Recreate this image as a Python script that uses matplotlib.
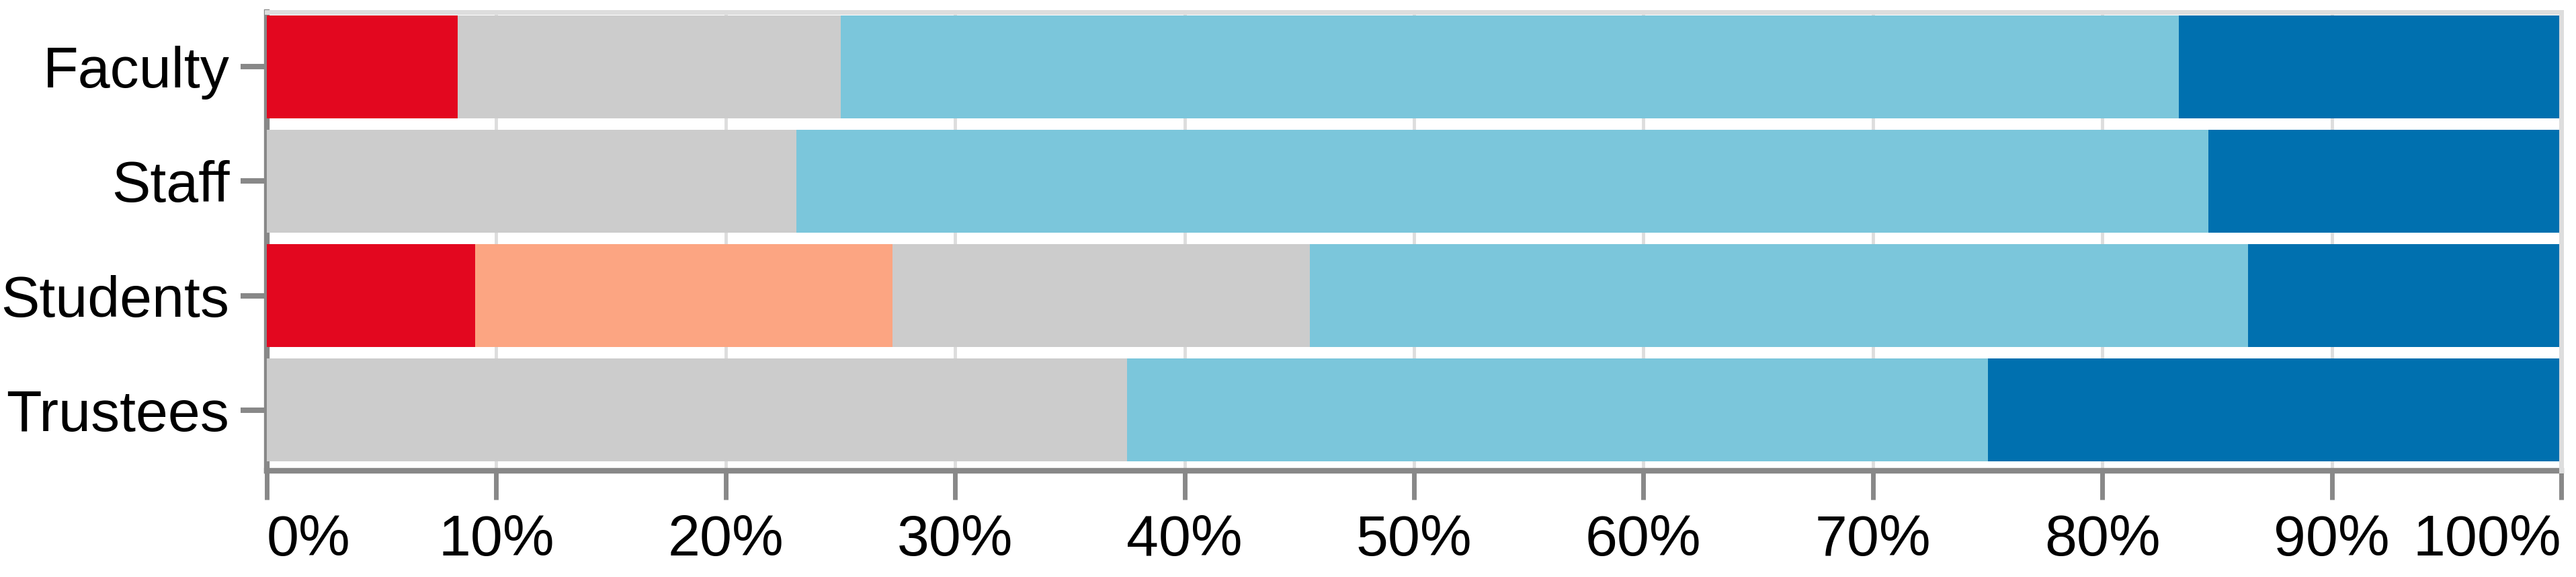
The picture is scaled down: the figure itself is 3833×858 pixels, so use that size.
import numpy as np
import matplotlib.pyplot as plt

plt.rcParams['font.family'] = ['Liberation Sans', 'DejaVu Sans']

# Share of responses per group (percent)
groups = ['Faculty', 'Staff', 'Students', 'Trustees']
strongly_disagree = [8.33, 0.0, 9.09, 0.0]
disagree = [0.0, 0.0, 18.18, 0.0]
neutral = [16.67, 23.08, 18.18, 37.5]
agree = [58.33, 61.54, 40.91, 37.5]
strongly_agree = [16.67, 15.38, 13.64, 25.0]

x_ticks = [0, 10, 20, 30, 40, 50, 60, 70, 80, 90, 100]

series = [strongly_disagree, disagree, neutral, agree, strongly_agree]
colors = ['#e3071f', '#fca582', '#cccccc', '#7bc6db', '#0070af']

W, H = 3833, 858
fig = plt.figure(figsize=(W / 100, H / 100), dpi=100)
ax = fig.add_axes([397 / W, 1 - 700 / H, (3811 - 397) / W, (700 - 18) / H])

y = np.arange(len(groups))
left = np.zeros(len(groups))
for vals, col in zip(series, colors):
    ax.barh(y, vals, left=left, height=0.9, color=col, linewidth=0, zorder=3)
    left += np.array(vals)

ax.set_xlim(0, 100)
ax.set_ylim(3.532, -0.479)

ax.set_yticks(y)
ax.set_yticklabels(groups)
ax.set_xticks(x_ticks)
ax.set_xticklabels([f'{t}%' for t in x_ticks])
xl = ax.get_xticklabels()
xl[0].set_ha('left')
xl[-1].set_ha('right')

ax.tick_params(axis='x', length=31, width=5, color='#888888', pad=15, labelsize=62)
ax.tick_params(axis='y', length=28, width=5.8, color='#888888', pad=12, labelsize=62)

ax.grid(axis='x', color='#dddddd', linewidth=3.5)
ax.set_axisbelow(True)

for s in ['bottom', 'left']:
    ax.spines[s].set_color('#888888')
    ax.spines[s].set_linewidth(6)
ax.spines['left'].set_zorder(1)
for s in ['top', 'right']:
    ax.spines[s].set_color('#dddddd')
    ax.spines[s].set_linewidth(5)
    ax.spines[s].set_zorder(4)

fig.savefig('out.png', dpi=100)
